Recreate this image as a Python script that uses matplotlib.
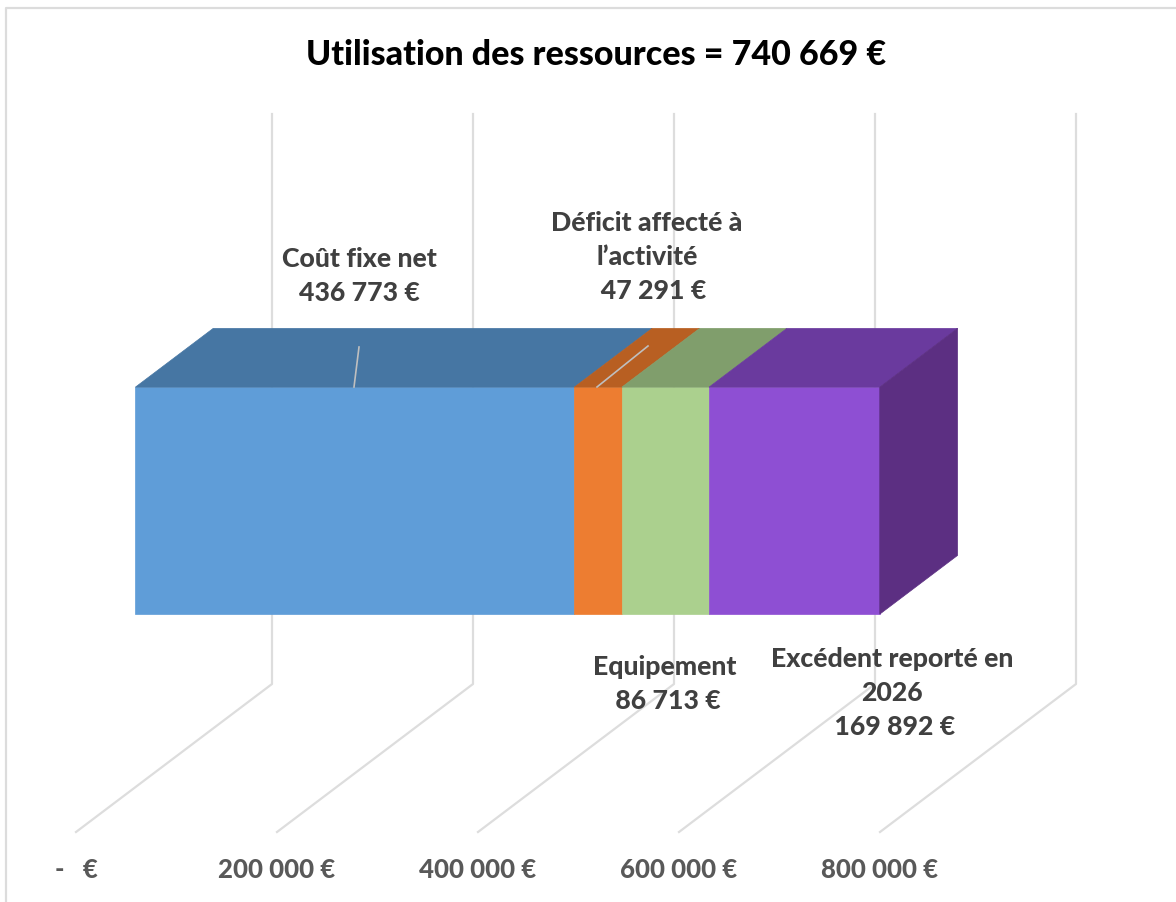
import matplotlib.pyplot as plt
from matplotlib.patches import Polygon

plt.rcParams['font.family'] = ['Lato', 'DejaVu Sans']

title = 'Utilisation des ressources = 740 669 €'
names = ['Coût fixe net', 'Déficit affecté à\nl’activité', 'Equipement', 'Excédent reporté en\n2026']
values = [436773, 47291, 86713, 169892]
pads = ['', '  ', ' ', ' ']
ticks = [0, 200000, 400000, 600000, 800000]
tick_labels = ['-   €', '200 000 €', '400 000 €', '600 000 €', '800 000 €']

front = ['#5F9DD8', '#ED7D31', '#ABD08E', '#8E4FD3']
top = ['#4676A3', '#B85F22', '#809E6C', '#6A3A9E']
side = '#5C2F82'

# px per euro, floor origin is at pixel (76, 833)
s = 201 / 200000
DX, DY = 196 / s, 148
D0, D1 = 0.303, 0.70
H0, H1 = 173, 400
WALL = 570


def P(x, d, h):
    return x + d * DX, h + d * DY


def px(x, y):
    return (x - 76) / s, 833 - y


fig = plt.figure(figsize=(11.76, 9.03), dpi=100)
ax = fig.add_axes([0, 0, 1, 1])
ax.set_xlim(-76 / s, 1100 / s)
ax.set_ylim(833 - 903, 833)
ax.axis('off')

# chart frame
ax.plot(*zip(px(6, 903), px(6, 9), px(1176, 9)), c='#DCDCDC', lw=1.6)

# floor and wall gridlines
for t in ticks:
    ax.plot(*zip(P(t, 0, 0), P(t, 1, 0), P(t, 1, WALL)), c='#DDDDDD', lw=1.6, zorder=1)

left = 0
for i, v in enumerate(values):
    right = left + v
    ax.add_patch(Polygon([P(left, D0, H0), P(right, D0, H0), P(right, D0, H1), P(left, D0, H1)],
                         fc=front[i], ec=front[i], lw=0.5, zorder=3))
    ax.add_patch(Polygon([P(left, D0, H1), P(right, D0, H1), P(right, D1, H1), P(left, D1, H1)],
                         fc=top[i], ec=top[i], lw=0.5, zorder=3))
    left = right
ax.add_patch(Polygon([P(left, D0, H0), P(left, D1, H0), P(left, D1, H1), P(left, D0, H1)],
                     fc=side, ec=side, lw=0.5, zorder=3))

# leader lines
ax.plot(*zip(px(359, 348), px(354, 388)), c='#BFBFBF', lw=1.2, zorder=4)
ax.plot(*zip(px(648, 347), px(597, 388)), c='#BFBFBF', lw=1.2, zorder=4)

lab_pos = [(359, 276), (647, 257), (665, 684), (892, 693)]
for name, v, pad, p in zip(names, values, pads, lab_pos):
    amount = pad + f'{v:,} €'.replace(',', ' ')
    ax.text(*px(*p), name + '\n' + amount, ha='center', va='center', fontsize=19.2,
            fontweight='black', color='#404040', linespacing=1.5, zorder=5)

for t, lab in zip(ticks, tick_labels):
    ax.text(t, 833 - 870, lab, ha='center', va='center', fontsize=18.5,
            fontweight='black', color='#595959')

ax.text(*px(596, 55), title, ha='center', va='center', fontsize=24.5,
        fontweight='black', color='black')

fig.savefig('out.png', dpi=100)
